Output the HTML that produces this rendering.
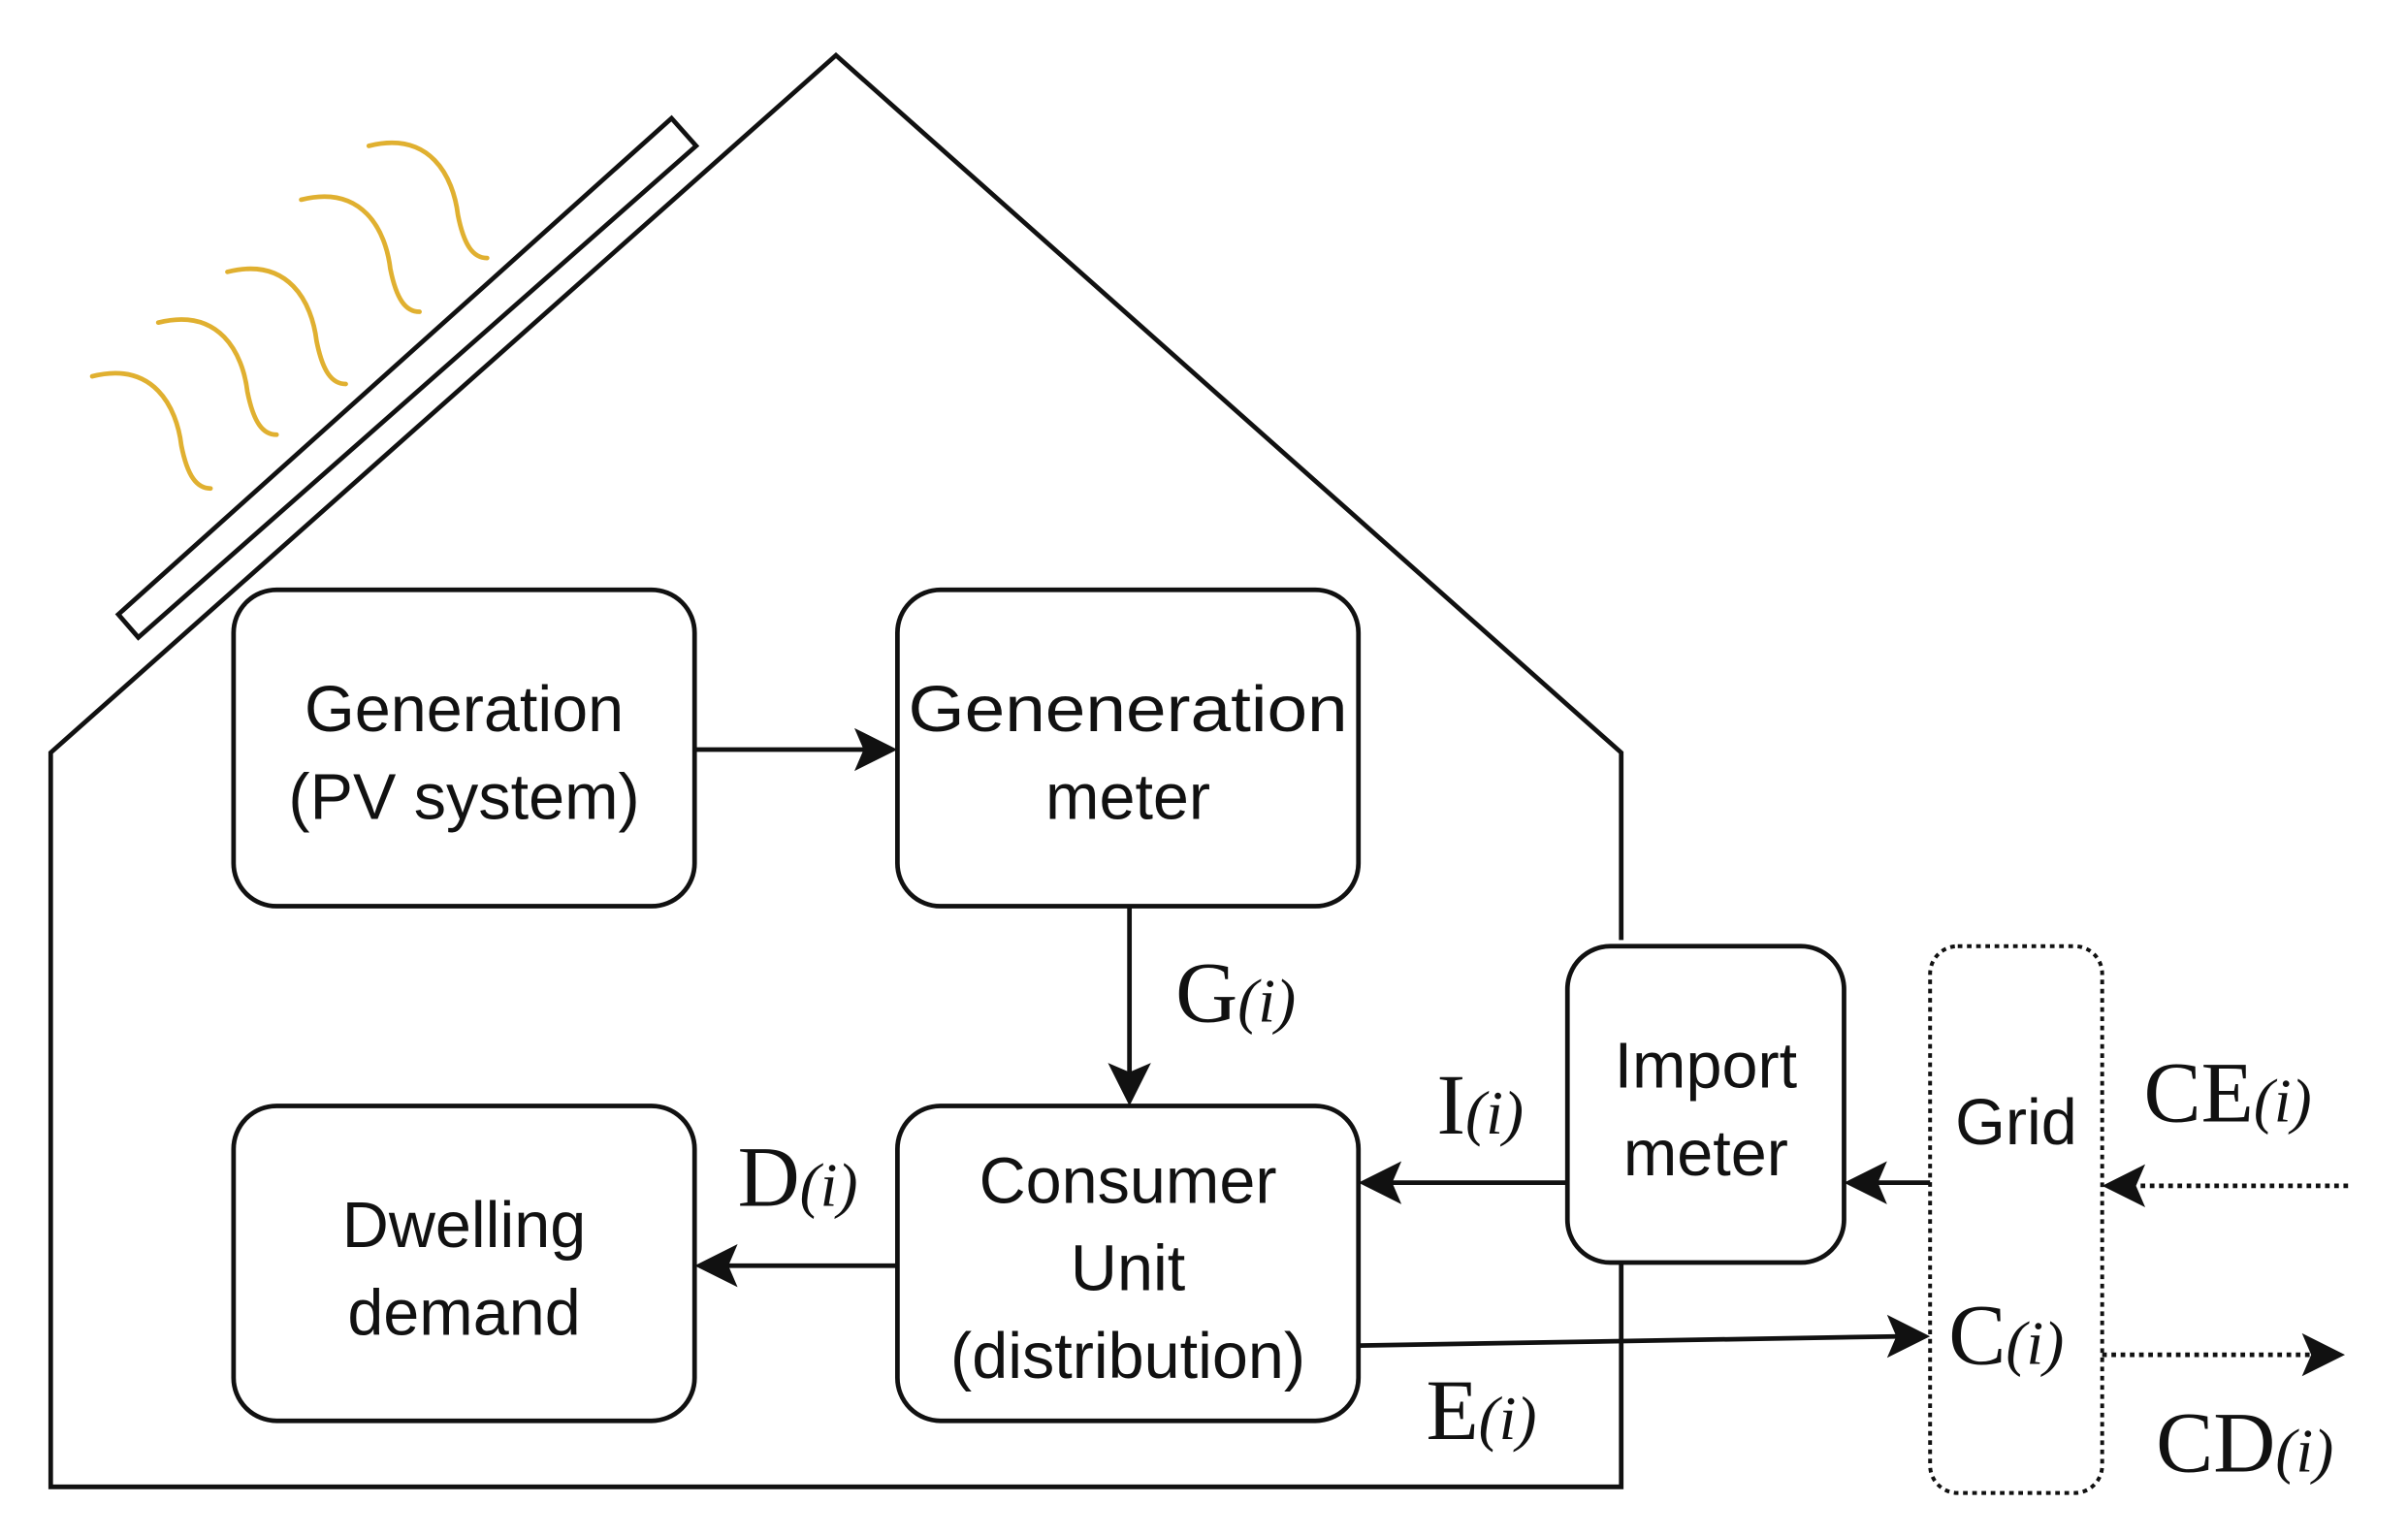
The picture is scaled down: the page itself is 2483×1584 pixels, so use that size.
<!DOCTYPE html>
<html><head><meta charset="utf-8"><style>html,body{margin:0;padding:0;background:#fff}svg{display:block}</style></head>
<body>
<svg width="2483" height="1584" viewBox="0 0 1567 1000" preserveAspectRatio="none" xmlns="http://www.w3.org/2000/svg">
<g fill="none" stroke="#111" stroke-width="3">
<polyline points="1055,612 1055,490 544,36 33,490 33,968 1055,968 1055,822"/>
<polygon points="77,400 437,77 453,95 90,415"/>
<rect x="152" y="384" width="300" height="206" rx="28"/>
<rect x="584" y="384" width="300" height="206" rx="28"/>
<rect x="152" y="720" width="300" height="205" rx="28"/>
<rect x="584" y="720" width="300" height="205" rx="28"/>
<rect x="1020" y="616" width="180" height="206" rx="28"/>
<rect x="1256" y="616" width="112" height="356" rx="18" stroke-dasharray="3,3" stroke-width="2.5"/>
<line x1="452" y1="488" x2="566" y2="488"/>
<line x1="735" y1="590" x2="735" y2="702"/>
<line x1="584" y1="824" x2="470" y2="824"/>
<line x1="1020" y1="770" x2="902" y2="770"/>
<line x1="1256" y1="770" x2="1218" y2="770"/>
<line x1="884" y1="876" x2="1238" y2="870"/>
<line x1="1528" y1="772" x2="1388" y2="772" stroke-dasharray="3,3"/>
<line x1="1368" y1="882" x2="1508" y2="882" stroke-dasharray="3,3"/>
</g>
<g fill="#111">
<polygon points="584,488 556,474 562,488 556,502"/>
<polygon points="735,720 721,692 735,698 749,692"/>
<polygon points="452,824 480,810 474,824 480,838"/>
<polygon points="884,770 912,756 906,770 912,784"/>
<polygon points="1200,770 1228,756 1222,770 1228,784"/>
<polygon points="1256,870 1228,856 1234,870 1228,884"/>
<polygon points="1368,772 1396,758 1390,772 1396,786"/>
<polygon points="1526,882 1498,868 1504,882 1498,896"/>
</g>
<g fill="none" stroke="#e0b030" stroke-width="3" stroke-linecap="round">
<path d="M60,245 C100,235 115,265 118,290 C122,310 128,318 137,318"/>
<path d="M103,210 C143,200 158,230 161,255 C165,275 171,283 180,283"/>
<path d="M148,177 C188,167 203,197 206,222 C210,242 216,250 225,250"/>
<path d="M196,130 C236,120 251,150 254,175 C258,195 264,203 273,203"/>
<path d="M240,95 C280,85 295,115 298,140 C302,160 308,168 317,168"/>
</g>
<g font-family="Liberation Sans, sans-serif" font-size="42" fill="#111" text-anchor="middle">
<text x="302" y="476">Generation</text>
<text x="302" y="533">(PV system)</text>
<text x="734" y="476" textLength="286" lengthAdjust="spacingAndGlyphs">Geneneration</text>
<text x="734" y="533">meter</text>
<text x="302" y="812">Dwelling</text>
<text x="302" y="869">demand</text>
<text x="734" y="783">Consumer</text>
<text x="734" y="840">Unit</text>
<text x="734" y="897">(distribution)</text>
<text x="1110" y="708">Import</text>
<text x="1110" y="765">meter</text>
<text x="1312" y="745">Grid</text>
</g>
<g font-family="Liberation Serif, serif" font-size="56" fill="#111">
<text x="765" y="665">G<tspan font-style="italic" font-size="40">(i)</tspan></text>
<text x="480" y="785">D<tspan font-style="italic" font-size="40">(i)</tspan></text>
<text x="935" y="738">I<tspan font-style="italic" font-size="40">(i)</tspan></text>
<text x="928" y="937">E<tspan font-style="italic" font-size="40">(i)</tspan></text>
<text x="1395" y="730">CE<tspan font-style="italic" font-size="40">(i)</tspan></text>
<text x="1268" y="888">C<tspan font-style="italic" font-size="40">(i)</tspan></text>
<text x="1403" y="958">CD<tspan font-style="italic" font-size="40">(i)</tspan></text>
</g>
</svg>
</body></html>
